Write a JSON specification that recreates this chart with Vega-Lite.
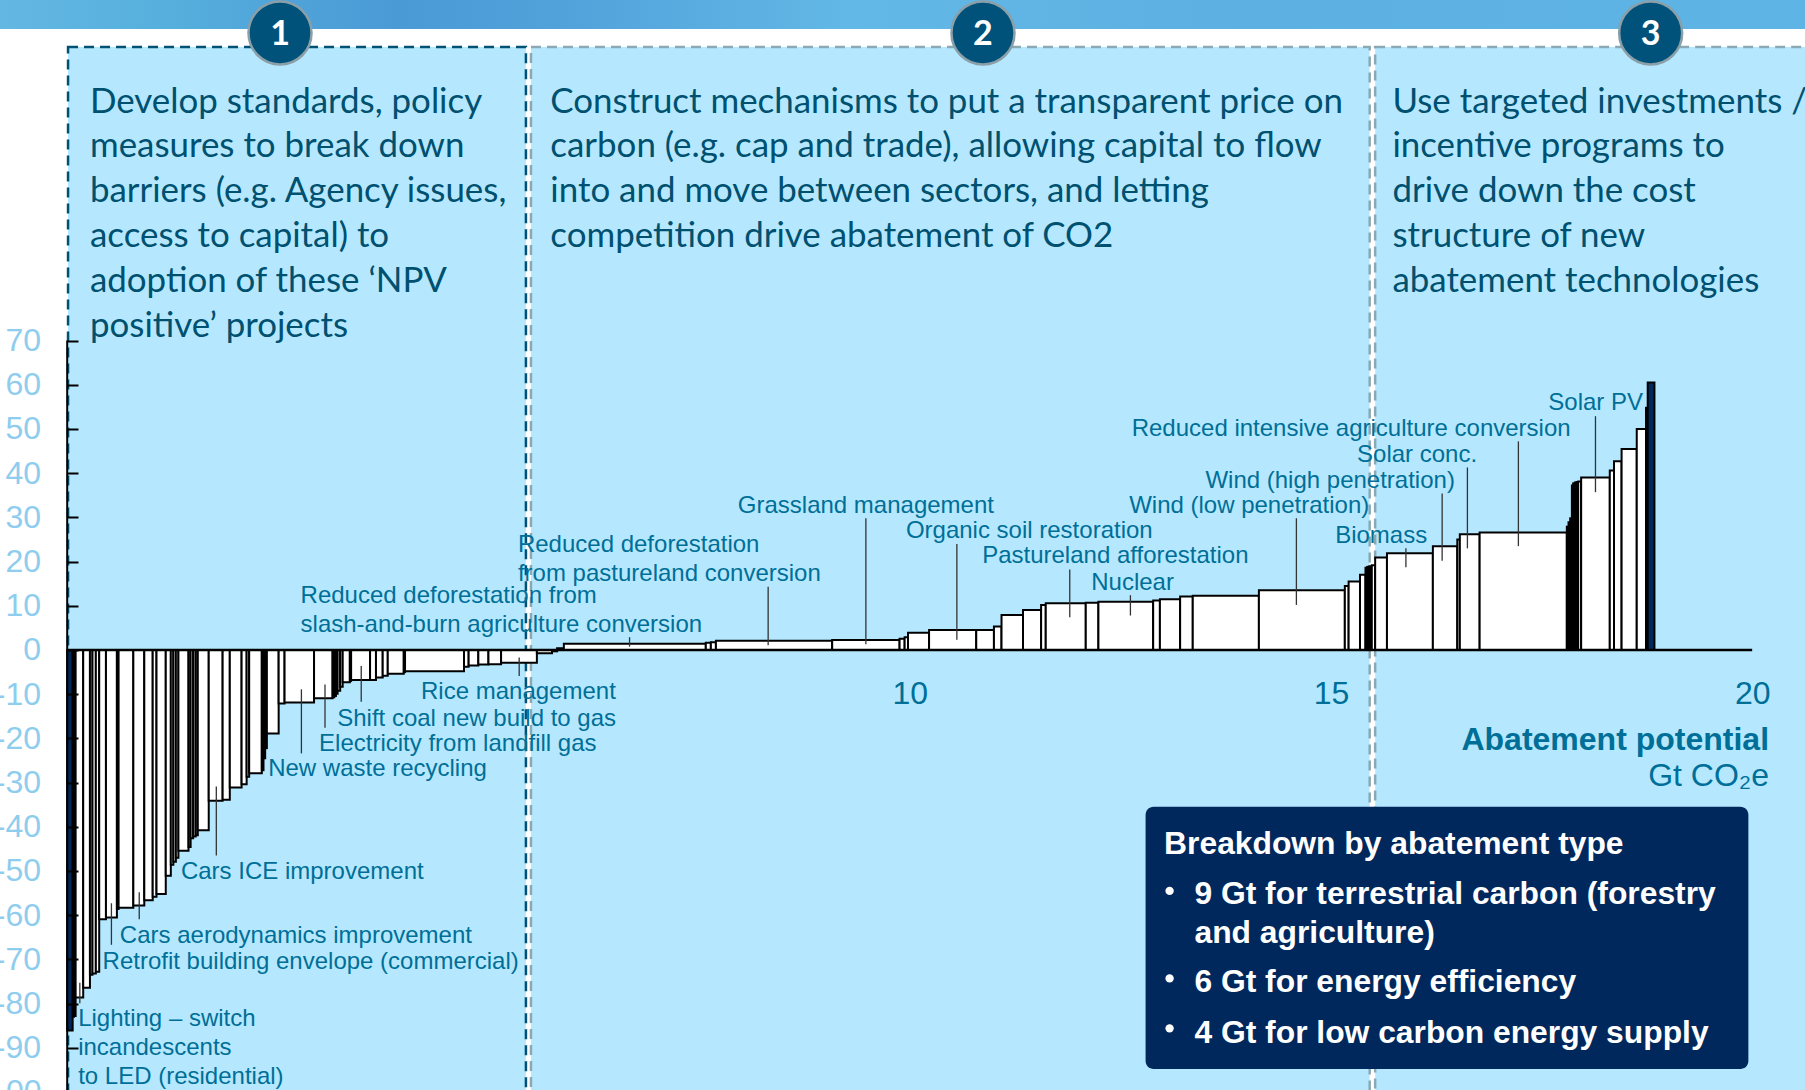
{
"$schema":"https://vega.github.io/schema/vega-lite/v6.json",
"width":1805,"height":1090,"padding":0,"autosize":"none","background":"#FFFFFF",
"config":{"view":{"stroke":null}},
"datasets":{
"panels":[{"panel":"1","x":0.01,"x2":5.445,"y":136.4,"y2":-101},{"panel":"2","x":5.505,"x2":15.46,"y":136.4,"y2":-101},{"panel":"3","x":15.525,"x2":21.5,"y":136.4,"y2":-101}],
"bars":[
{"x":0,"x2":0.065,"y":-86.1,"g":"end"},{"x":0.065,"x2":0.08,"y":-83,"g":"mid"},{"x":0.08,"x2":0.10,"y":-82.8,"g":"mid"},{"name":"Lighting – switch incandescents to LED (residential)","x":0.10,"x2":0.19,"y":-78.6,"g":"mid"},{"x":0.19,"x2":0.27,"y":-76.4,"g":"mid"},{"x":0.27,"x2":0.30,"y":-73.5,"g":"mid"},{"x":0.30,"x2":0.34,"y":-73.2,"g":"mid"},{"x":0.34,"x2":0.38,"y":-72.8,"g":"mid"},
{"x":0.38,"x2":0.46,"y":-60.9,"g":"mid"},{"name":"Retrofit building envelope (commercial)","x":0.46,"x2":0.59,"y":-60.5,"g":"mid"},{"x":0.59,"x2":0.61,"y":-58.6,"g":"mid"},{"x":0.61,"x2":0.785,"y":-58.3,"g":"mid"},{"name":"Cars aerodynamics improvement","x":0.785,"x2":0.915,"y":-57.8,"g":"mid"},{"x":0.915,"x2":1.015,"y":-56.6,"g":"mid"},{"x":1.015,"x2":1.06,"y":-55.8,"g":"mid"},{"x":1.06,"x2":1.17,"y":-55.2,"g":"mid"},{"x":1.17,"x2":1.23,"y":-51.1,"g":"mid"},{"x":1.23,"x2":1.26,"y":-48.6,"g":"mid"},{"x":1.26,"x2":1.29,"y":-47.9,"g":"mid"},{"x":1.29,"x2":1.32,"y":-47,"g":"mid"},{"x":1.32,"x2":1.44,"y":-45.4,"g":"mid"},{"x":1.44,"x2":1.465,"y":-44.6,"g":"mid"},{"x":1.465,"x2":1.495,"y":-42.6,"g":"mid"},{"x":1.495,"x2":1.525,"y":-42.2,"g":"mid"},{"x":1.525,"x2":1.55,"y":-41.9,"g":"mid"},{"x":1.55,"x2":1.68,"y":-40.8,"g":"mid"},
{"name":"Cars ICE improvement","x":1.68,"x2":1.845,"y":-34.1,"g":"mid"},{"x":1.845,"x2":1.93,"y":-33.9,"g":"mid"},{"x":1.93,"x2":2.07,"y":-31.1,"g":"mid"},{"x":2.07,"x2":2.13,"y":-30.4,"g":"mid"},{"x":2.13,"x2":2.16,"y":-28.7,"g":"mid"},{"x":2.16,"x2":2.31,"y":-27.9,"g":"mid"},{"x":2.31,"x2":2.33,"y":-27.2,"g":"mid"},{"x":2.33,"x2":2.35,"y":-24.5,"g":"mid"},{"x":2.35,"x2":2.37,"y":-22.2,"g":"mid"},{"x":2.37,"x2":2.51,"y":-18.9,"g":"mid"},{"x":2.51,"x2":2.58,"y":-12.1,"g":"mid"},{"name":"New waste recycling","x":2.58,"x2":2.93,"y":-11.9,"g":"mid"},{"name":"Electricity from landfill gas","x":2.93,"x2":3.15,"y":-10.9,"g":"mid"},{"x":3.15,"x2":3.17,"y":-10.7,"g":"mid"},{"x":3.17,"x2":3.19,"y":-10.4,"g":"mid"},{"x":3.19,"x2":3.21,"y":-9.9,"g":"mid"},{"x":3.21,"x2":3.24,"y":-9.2,"g":"mid"},{"x":3.24,"x2":3.27,"y":-8.3,"g":"mid"},{"x":3.27,"x2":3.355,"y":-7.3,"g":"mid"},{"x":3.355,"x2":3.37,"y":-7,"g":"mid"},
{"name":"Shift coal new build to gas","x":3.37,"x2":3.595,"y":-6.8,"g":"mid"},{"x":3.595,"x2":3.665,"y":-6.8,"g":"mid"},{"x":3.665,"x2":3.745,"y":-6.2,"g":"mid"},{"x":3.745,"x2":3.805,"y":-5.8,"g":"mid"},{"x":3.805,"x2":3.995,"y":-5.4,"g":"mid"},{"x":3.995,"x2":4.01,"y":-5,"g":"mid"},{"x":4.01,"x2":4.71,"y":-4.8,"g":"mid"},{"x":4.71,"x2":4.765,"y":-3.8,"g":"mid"},{"x":4.765,"x2":4.88,"y":-3.5,"g":"mid"},{"x":4.88,"x2":5.0,"y":-3.3,"g":"mid"},{"x":5.0,"x2":5.15,"y":-3.2,"g":"mid"},{"name":"Rice management","x":5.15,"x2":5.575,"y":-2.9,"g":"mid"},{"x":5.575,"x2":5.755,"y":-0.75,"g":"mid"},{"x":5.755,"x2":5.815,"y":-0.3,"g":"mid"},
{"x":5.815,"x2":5.895,"y":0.4,"g":"mid"},{"name":"Reduced deforestation from slash-and-burn agriculture conversion","x":5.895,"x2":7.58,"y":1.4,"g":"mid"},{"x":7.58,"x2":7.64,"y":1.66,"g":"mid"},{"x":7.64,"x2":7.70,"y":1.73,"g":"mid"},{"name":"Reduced deforestation from pastureland conversion","x":7.70,"x2":9.08,"y":2.1,"g":"mid"},{"name":"Grassland management","x":9.08,"x2":9.88,"y":2.26,"g":"mid"},{"x":9.88,"x2":9.94,"y":2.56,"g":"mid"},{"x":9.94,"x2":9.98,"y":2.9,"g":"mid"},{"x":9.98,"x2":10.23,"y":3.9,"g":"mid"},{"name":"Organic soil restoration","x":10.23,"x2":10.79,"y":4.5,"g":"mid"},{"x":10.79,"x2":11.0,"y":4.5,"g":"mid"},{"x":11.0,"x2":11.09,"y":5.3,"g":"mid"},{"x":11.09,"x2":11.345,"y":7.9,"g":"mid"},{"x":11.345,"x2":11.56,"y":9.05,"g":"mid"},{"x":11.56,"x2":11.615,"y":10.2,"g":"mid"},{"name":"Pastureland afforestation","x":11.615,"x2":12.09,"y":10.6,"g":"mid"},{"x":12.09,"x2":12.24,"y":10.7,"g":"mid"},{"name":"Nuclear","x":12.24,"x2":12.89,"y":10.9,"g":"mid"},{"x":12.89,"x2":12.97,"y":11.2,"g":"mid"},{"x":12.97,"x2":13.21,"y":11.5,"g":"mid"},{"x":13.21,"x2":13.36,"y":12.1,"g":"mid"},{"x":13.36,"x2":14.145,"y":12.3,"g":"mid"},{"name":"Wind (low penetration)","x":14.145,"x2":15.165,"y":13.5,"g":"mid"},{"x":15.165,"x2":15.21,"y":14.5,"g":"mid"},{"x":15.21,"x2":15.345,"y":15.5,"g":"mid"},{"x":15.345,"x2":15.41,"y":17,"g":"mid"},{"x":15.41,"x2":15.43,"y":18.6,"g":"mid"},{"x":15.43,"x2":15.45,"y":18.8,"g":"mid"},{"x":15.45,"x2":15.465,"y":18.9,"g":"mid"},{"x":15.465,"x2":15.485,"y":18.9,"g":"mid"},{"x":15.485,"x2":15.525,"y":19.2,"g":"mid"},{"x":15.525,"x2":15.665,"y":20.9,"g":"mid"},{"name":"Biomass","x":15.665,"x2":16.21,"y":21.9,"g":"mid"},{"name":"Wind (high penetration)","x":16.21,"x2":16.5,"y":23.5,"g":"mid"},{"x":16.5,"x2":16.53,"y":25,"g":"mid"},{"name":"Solar conc.","x":16.53,"x2":16.765,"y":26.2,"g":"mid"},{"name":"Reduced intensive agriculture conversion","x":16.765,"x2":17.80,"y":26.6,"g":"mid"},{"x":17.80,"x2":17.82,"y":27.9,"g":"mid"},{"x":17.82,"x2":17.84,"y":28.9,"g":"mid"},{"x":17.84,"x2":17.86,"y":29.8,"g":"mid"},{"x":17.86,"x2":17.875,"y":37.2,"g":"mid"},{"x":17.875,"x2":17.895,"y":37.7,"g":"mid"},{"x":17.895,"x2":17.915,"y":37.9,"g":"mid"},{"x":17.915,"x2":17.935,"y":38,"g":"mid"},{"x":17.935,"x2":17.97,"y":38.1,"g":"mid"},{"name":"Solar PV","x":17.97,"x2":18.31,"y":39,"g":"mid"},{"x":18.31,"x2":18.36,"y":40.6,"g":"mid"},{"x":18.36,"x2":18.45,"y":42.7,"g":"mid"},{"x":18.45,"x2":18.63,"y":45.5,"g":"mid"},{"x":18.63,"x2":18.74,"y":50,"g":"mid"},{"x":18.74,"x2":18.76,"y":54.8,"g":"mid"},{"x":18.76,"x2":18.84,"y":60.5,"g":"end"}
],
"leaders":[
{"x":0.15,"y":-75.3,"y2":-79.9},{"x":0.525,"y":-57.3,"y2":-66.7},{"x":0.855,"y":-54.8,"y2":-60.9},{"x":1.77,"y":-30.9,"y2":-46.5},{"x":2.78,"y":-8.9,"y2":-23.4},{"x":3.06,"y":-7.8,"y2":-17.6},{"x":3.49,"y":-3.6,"y2":-11.7},{"x":5.365,"y":-1.7,"y2":-5.9},{"x":6.675,"y":2.9,"y2":0.75},{"x":8.32,"y":14.3,"y2":1.1},{"x":9.48,"y":29.8,"y2":1.3},{"x":10.56,"y":24,"y2":2.3},{"x":11.9,"y":18.2,"y2":7.4},{"x":12.62,"y":12.4,"y2":7.8},{"x":14.59,"y":29.8,"y2":10.2},{"x":15.89,"y":23,"y2":18.7},{"x":16.32,"y":35.4,"y2":20.2},{"x":16.62,"y":41.3,"y2":23},{"x":17.225,"y":47.2,"y2":23.5},{"x":18.14,"y":52.9,"y2":35.7}
],
"notes":[
{"x":2.77,"y":12.4,"t":"Reduced deforestation from"},{"x":2.77,"y":5.88,"t":"slash-and-burn agriculture conversion"},{"x":5.35,"y":23.87,"t":"Reduced deforestation"},{"x":5.35,"y":17.35,"t":"from pastureland conversion"},{"x":7.96,"y":32.7,"t":"Grassland management"},{"x":9.955,"y":27,"t":"Organic soil restoration"},{"x":10.86,"y":21.27,"t":"Pastureland afforestation"},{"x":12.155,"y":15.27,"t":"Nuclear"},{"x":12.605,"y":32.7,"t":"Wind (low penetration)"},{"x":13.51,"y":38.46,"t":"Wind (high penetration)"},{"x":15.05,"y":25.95,"t":"Biomass"},{"x":15.31,"y":44.19,"t":"Solar conc."},{"x":12.635,"y":50.2,"t":"Reduced intensive agriculture conversion"},{"x":17.58,"y":55.9,"t":"Solar PV"},{"x":4.2,"y":-9.48,"t":"Rice management"},{"x":3.205,"y":-15.45,"t":"Shift coal new build to gas"},{"x":2.99,"y":-21.2,"t":"Electricity from landfill gas"},{"x":2.385,"y":-26.92,"t":"New waste recycling"},{"x":1.35,"y":-50.1,"t":"Cars ICE improvement"},{"x":0.625,"y":-64.7,"t":"Cars aerodynamics improvement"},{"x":0.42,"y":-70.4,"t":"Retrofit building envelope (commercial)"},{"x":0.13,"y":-83.4,"t":"Lighting – switch"},{"x":0.13,"y":-89.95,"t":"incandescents"},{"x":0.13,"y":-96.5,"t":"to LED (residential)"}
],
"panelText":[
{"x":0.27,"y":124.1,"t":"Develop standards, policy"},{"x":0.27,"y":114.3,"t":"measures to break down"},{"x":0.27,"y":104.1,"t":"barriers (e.g. Agency issues,"},{"x":0.27,"y":93.9,"t":"access to capital) to"},{"x":0.27,"y":83.8,"t":"adoption of these ‘NPV"},{"x":0.27,"y":73.6,"t":"positive’ projects"},
{"x":5.735,"y":124.1,"t":"Construct mechanisms to put a transparent price on"},{"x":5.735,"y":114.3,"t":"carbon (e.g. cap and trade), allowing capital to flow"},{"x":5.735,"y":104.1,"t":"into and move between sectors, and letting"},{"x":5.735,"y":93.9,"t":"competition drive abatement of CO2"},
{"x":15.73,"y":124.1,"t":"Use targeted investments /"},{"x":15.73,"y":114.3,"t":"incentive programs to"},{"x":15.73,"y":104.1,"t":"drive down the cost"},{"x":15.73,"y":93.9,"t":"structure of new"},{"x":15.73,"y":83.8,"t":"abatement technologies"}
],
"boxText":[
{"x":13.02,"y":-43.67,"t":"Breakdown by abatement type"},{"x":13.38,"y":-54.98,"t":"9 Gt for terrestrial carbon (forestry"},{"x":13.38,"y":-63.73,"t":"and agriculture)"},{"x":13.38,"y":-74.89,"t":"6 Gt for energy efficiency"},{"x":13.38,"y":-86.36,"t":"4 Gt for low carbon energy supply"}
],
"bullets":[{"x":13.085,"y":-54.5},{"x":13.085,"y":-74.3},{"x":13.085,"y":-85.6}],
"badges":[{"x":2.526,"y":139.6,"t":"1"},{"x":10.87,"y":139.6,"t":"2"},{"x":18.795,"y":139.6,"t":"3"}]
},
"encoding":{
"x":{"field":"x","type":"quantitative","scale":{"domain":[-0.7976,20.627],"nice":false,"zero":false},
"axis":{"orient":"bottom","offset":-440,"title":null,"values":[10,15,20],"domain":false,"ticks":false,"grid":false,"labelPadding":28,"labelFontSize":32,"labelFont":"Liberation Sans","labelColor":"#006F97","labelOverlap":false,"labelFlush":false,"zindex":1}},
"y":{"field":"y","type":"quantitative","scale":{"domain":[147.06,-99.55],"range":[0,1090],"nice":false,"zero":false},
"axis":{"orient":"left","offset":-67,"title":null,"values":[-90,-80,-70,-60,-50,-40,-30,-20,-10,0,10,20,30,40,50,60,70],"labelExpr":"''+datum.value","domain":false,"grid":false,"tickSize":-11,"tickWidth":2,"tickColor":"#000000","labelPadding":37.5,"labelFontSize":32,"labelFont":"Liberation Sans","labelColor":"#8FCDEE","labelOverlap":false,"labelFlush":false,"zindex":1}}
},
"layer":[
{"data":{"values":[{"x":-0.7976,"x2":20.627,"y":147.06,"y2":140.5}]},"mark":{"type":"rect","fill":{"gradient":"linear","x1":0,"x2":1,"y1":0,"y2":0,"stops":[{"offset":0,"color":"#63B8E2"},{"offset":0.1,"color":"#55AEDC"},{"offset":0.22,"color":"#4A9AD6"},{"offset":0.32,"color":"#52A3DB"},{"offset":0.47,"color":"#62B8E6"},{"offset":0.7,"color":"#5CB0E2"},{"offset":1,"color":"#5FB4E6"}]}},"encoding":{"x2":{"field":"x2"},"y2":{"field":"y2"}}},
{"data":{"name":"panels"},"mark":{"type":"rect","fill":"#B5E8FF","strokeWidth":2.5,"strokeDash":[10,6]},"encoding":{"x2":{"field":"x2"},"y2":{"field":"y2"},"stroke":{"field":"panel","type":"nominal","legend":null,"scale":{"domain":["1","2","3"],"range":["#005274","#8AA9B5","#8AA9B5"]}}}},
{"data":{"name":"bars"},"mark":{"type":"rect","stroke":"#000000","strokeWidth":2},"encoding":{"x2":{"field":"x2"},"y2":{"datum":0},"fill":{"field":"g","type":"nominal","legend":null,"scale":{"domain":["mid","end"],"range":["#FFFFFF","#00285D"]}}}},
{"data":{"values":[{"x":0,"x2":20,"y":0}]},"mark":{"type":"rule","stroke":"#000000","strokeWidth":2.5},"encoding":{"x2":{"field":"x2"}}},
{"data":{"values":[{"x":0,"y":70,"y2":-99.55}]},"mark":{"type":"rule","stroke":"#000000","strokeWidth":2},"encoding":{"y2":{"field":"y2"}}},
{"data":{"name":"leaders"},"mark":{"type":"rule","stroke":"#333333","strokeWidth":1.3},"encoding":{"y2":{"field":"y2"}}},
{"data":{"name":"notes"},"mark":{"type":"text","align":"left","baseline":"middle","font":"Liberation Sans","fontSize":24,"dy":0.5,"fill":"#006F97"},"encoding":{"text":{"field":"t"}}},
{"data":{"name":"panelText"},"mark":{"type":"text","align":"left","baseline":"middle","font":"Lato","fontSize":34.9,"dy":2,"fill":"#00506F"},"encoding":{"text":{"field":"t"}}},
{"data":{"values":[{"x":-0.3045,"y":-100,"t":"-100"}]},"mark":{"type":"text","align":"right","baseline":"middle","font":"Liberation Sans","fontSize":32,"fill":"#8FCDEE"},"encoding":{"text":{"field":"t"}}},
{"data":{"values":[{"x":12.80,"x2":19.955,"y":-35.45,"y2":-94.8}]},"mark":{"type":"rect","fill":"#00285D","cornerRadius":8},"encoding":{"x2":{"field":"x2"},"y2":{"field":"y2"}}},
{"data":{"name":"boxText"},"mark":{"type":"text","align":"left","baseline":"middle","font":"Liberation Sans","fontWeight":"bold","fontSize":31.8,"dy":1,"fill":"#FFFFFF"},"encoding":{"text":{"field":"t"}}},
{"data":{"name":"bullets"},"mark":{"type":"point","shape":"circle","filled":true,"fill":"#FFFFFF","opacity":1,"size":70}},
{"data":{"values":[{"x":20.2,"y":-20.1,"t":"Abatement potential"}]},"mark":{"type":"text","align":"right","baseline":"middle","font":"Liberation Sans","fontWeight":"bold","fontSize":32,"dy":1,"fill":"#006F97"},"encoding":{"text":{"field":"t"}}},
{"data":{"values":[{"x":20.2,"y":-28.2,"t":"Gt CO₂e"}]},"mark":{"type":"text","align":"right","baseline":"middle","font":"Liberation Sans","fontSize":32,"dy":1,"fill":"#006F97"},"encoding":{"text":{"field":"t"}}},
{"data":{"name":"badges"},"mark":{"type":"point","shape":"circle","filled":true,"fill":"#00527A","stroke":"#8A9FA8","strokeWidth":2.5,"opacity":1,"size":3970}},
{"data":{"name":"badges"},"mark":{"type":"text","align":"center","baseline":"middle","font":"Lato","fontWeight":"bold","fontSize":34,"dy":2,"fill":"#FFFFFF"},"encoding":{"text":{"field":"t"}}}
]
}
